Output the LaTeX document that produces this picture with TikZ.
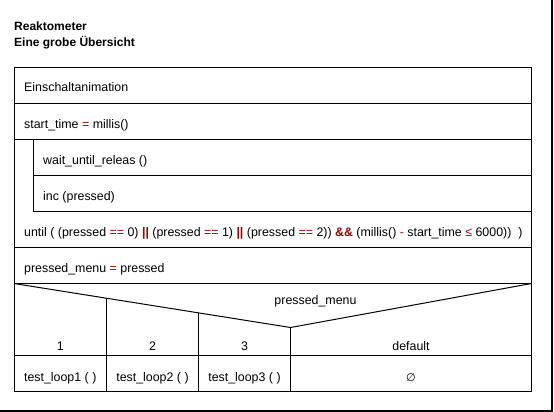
\documentclass[tikz,border=0pt]{standalone}
\usepackage{fontspec}
\setmainfont{Liberation Sans}
\newfontfamily\symfont{DejaVu Sans}
\usetikzlibrary{calc}
\definecolor{opred}{RGB}{150,0,0}
\newcommand{\op}[1]{\textcolor{opred}{#1}}
\newcommand{\bop}[1]{\textcolor{opred}{\textbf{#1}}}
\tikzset{
  txt/.style={inner sep=0pt, font=\fontsize{12.4}{14}\selectfont},
  ttl/.style={txt, font=\fontsize{12}{14}\selectfont\bfseries},
  box/.style={line width=1pt},
  frame/.style={line width=1.5pt}
}

\begin{document}
\begin{tikzpicture}[x=1pt, y=-1pt]
			%%%%% START %%%%%
			\useasboundingbox (0, 0) rectangle (554, 412);
			
			% outer frame, right and bottom only
			\draw[frame] (552, 0) -- (552, 411) -- (0, 411);
			
			\node[ttl, anchor=base west] (title) at (14, 31) {Reaktometer};
			\node[ttl, anchor=base west] (subtitle) at (14, 47) {Eine grobe Übersicht};
			
			% outer block
			\draw[box] (14, 67.5) rectangle (531.5, 391.5);
			\draw[box] (14, 103.5) -- (531.5, 103.5);
			\draw[box] (14, 139.5) -- (531.5, 139.5);
			\draw[box] (14, 247.5) -- (531.5, 247.5);
			\draw[box] (14, 283.5) -- (531.5, 283.5);
			
			% loop body
			\draw[box] (33, 139.5) -- (33, 211.5) -- (531.5, 211.5);
			\draw[box] (33, 175.5) -- (531.5, 175.5);
			
			\node[txt, anchor=base west] (anim) at (24, 92) {Einschaltanimation};
			\node[txt, anchor=base west] (start) at (24, 128) {start\_time \op{=} millis()};
			\node[txt, anchor=base west] (wait) at (43, 164) {wait\_until\_releas ()};
			\node[txt, anchor=base west] (inc) at (43, 200) {inc (pressed)};
			\node[txt, anchor=base west] (until) at (24, 236) {until ( (pressed \op{==} 0) \bop{||} (pressed \op{==} 1) \bop{||} (pressed \op{==} 2)) \bop{\&\&} (millis() \op{-} start\_time \op{≤} 6000))~~)};
			\node[txt, anchor=base west] (menu) at (24, 272) {pressed\_menu \op{=} pressed};
			
			% case
			\draw[box] (14, 283.5) -- (290.5, 327.5) -- (531.5, 283.5);
			\draw[box] (14, 355.5) -- (531.5, 355.5);
			\draw[box] (106.5, 298.2) -- (106.5, 391.5);
			\draw[box] (198.5, 312.9) -- (198.5, 391.5);
			\draw[box] (290.5, 327.5) -- (290.5, 391.5);
			
			\node[txt, anchor=base] (sel) at (315.5, 304) {pressed\_menu};
			\node[txt, anchor=base] (c1) at (60.25, 350) {1};
			\node[txt, anchor=base] (c2) at (152.5, 350) {2};
			\node[txt, anchor=base] (c3) at (244.5, 350) {3};
			\node[txt, anchor=base] (cdef) at (411, 350) {default};
			
			\node[txt, anchor=base] (loop1) at (60.25, 381.5) {test\_loop1 ( )};
			\node[txt, anchor=base] (loop2) at (152.5, 381.5) {test\_loop2 ( )};
			\node[txt, anchor=base] (loop3) at (244.5, 381.5) {test\_loop3 ( )};
			\node[txt, anchor=base] (empty) at (411, 381.5) {\symfont\fontsize{11}{13}\selectfont ∅};
			
			%%%%% END %%%%%
\end{tikzpicture}
\end{document}
